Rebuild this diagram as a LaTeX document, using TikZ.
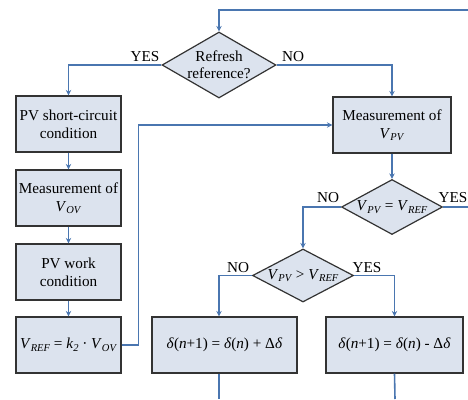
\documentclass[tikz,border=0pt]{standalone}
\usepackage{fontspec}
\setmainfont{Liberation Serif}
\usetikzlibrary{shapes.geometric,arrows.meta}
\definecolor{boxfill}{HTML}{DCE3EE}
\definecolor{boxline}{HTML}{333333}
\definecolor{flow}{HTML}{4A76B0}
\newcommand{\Vsub}[2]{\textit{#1}\raisebox{-0.35ex}{\fontsize{10.5}{10.5}\selectfont\textit{#2}}}
\begin{document}
\begin{tikzpicture}[x=1pt,y=-1pt,
  every node/.style={font=\fontsize{15.2}{18}\selectfont},
  procbox/.style={draw=boxline,fill=boxfill,line width=1.2pt,rectangle,align=center,inner sep=1pt,minimum height=56pt},
  decbox/.style={draw=boxline,fill=boxfill,line width=1.2pt,diamond,inner sep=0pt},
  flowline/.style={draw=flow,line width=1.6pt},
  flowarrow/.style={flowline,-{Stealth[length=5.5pt,width=5.5pt]}},
  answer/.style={inner sep=0pt}]
\useasboundingbox (0,0) rectangle (468,399);
% decisions
\node[decbox,minimum width=114pt,minimum height=66pt,label={[align=center,font=\fontsize{15.2}{17}\selectfont]center:Refresh\\reference?}] (d1) at (219,65) {};
\node[decbox,minimum width=101pt,minimum height=55pt,label={center:\Vsub{V}{PV} = \Vsub{V}{REF}}] (d2) at (392,207) {};
\node[decbox,minimum width=101pt,minimum height=53pt,label={center:\Vsub{V}{PV} > \Vsub{V}{REF}}] (d3) at (303,275.5) {};
% left column
\node[procbox,minimum width=105pt] (b1) at (68.5,124) {PV short-circuit\\condition};
\node[procbox,minimum width=105pt] (b2) at (68.5,198) {Measurement of\\\Vsub{V}{OV}};
\node[procbox,minimum width=105pt] (b3) at (68.5,272) {PV work\\condition};
\node[procbox,minimum width=105pt] (b4) at (68.5,345) {\Vsub{V}{REF} = \textit{k}\raisebox{-0.35ex}{\fontsize{10.5}{10.5}\selectfont\textit{2}} · \Vsub{V}{OV}};
% right side
\node[procbox,minimum width=118pt] (m) at (392,125) {Measurement of\\\Vsub{V}{PV}};
\node[procbox,minimum width=145pt] (dl) at (224.5,345) {\textit{δ}(\textit{n}+1) = \textit{δ}(\textit{n}) + Δ\textit{δ}};
\node[procbox,minimum width=137pt] (dr) at (394.5,345) {\textit{δ}(\textit{n}+1) = \textit{δ}(\textit{n}) - Δ\textit{δ}};
% free ends
\coordinate (top) at (468,10);
\coordinate (exit2) at (468,207);
\coordinate (endl) at (219,399);
\coordinate (endr) at (395,399);
% connectors
\draw[flowarrow] (top) -| (d1.north);
\draw[flowarrow] (d1.west) -| (b1.north);
\draw[flowarrow] (d1.east) -| (m.north);
\draw[flowarrow] (b1) -- (b2);
\draw[flowarrow] (b2) -- (b3);
\draw[flowarrow] (b3) -- (b4);
\draw[flowarrow] (b4.east) -- ++(17,0) |- (m.west);
\draw[flowarrow] (m) -- (d2);
\draw[flowline] (d2.east) -- (exit2);
\draw[flowarrow] (d2.west) -| (d3.north);
\draw[flowarrow] (d3.west) -| ([xshift=-5.5pt]dl.north);
\draw[flowarrow] (d3.east) -| (dr.north);
\draw[flowline] ([xshift=-5.5pt]dl.south) -- (endl);
\draw[flowline] (dr.south) -- (endr);
% labels
\node[answer] (y1) at (145,57) {YES};
\node[answer] (n1) at (293,57) {NO};
\node[answer] (n2) at (328,198) {NO};
\node[answer] (y2) at (453,198) {YES};
\node[answer] (n3) at (238,268) {NO};
\node[answer] (y3) at (367,268) {YES};
\end{tikzpicture}
\end{document}
